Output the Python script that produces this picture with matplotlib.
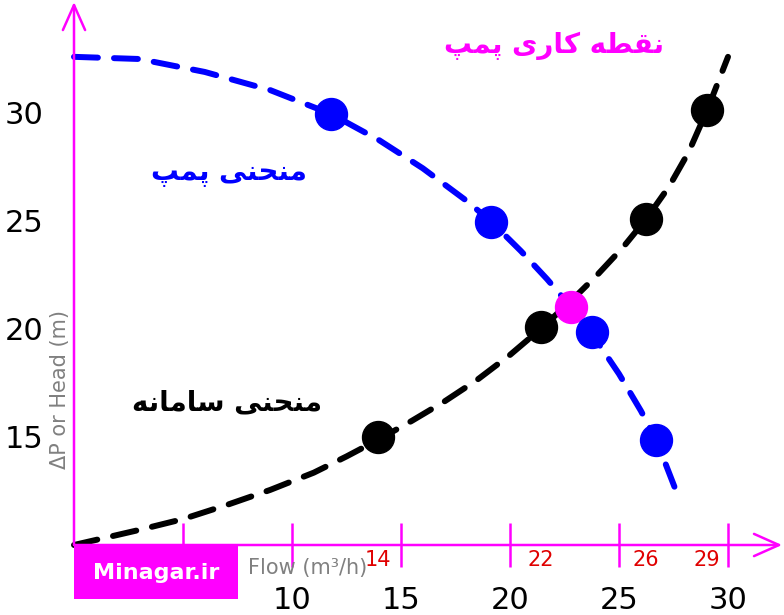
import matplotlib
matplotlib.use("Agg")
import matplotlib.pyplot as plt
from matplotlib.patches import Rectangle

# pump curve (dashed blue)
pump_curve_q = [0, 3, 6, 9, 11.8, 14, 16, 18, 19.15, 20.5, 21.7, 22.8, 23.75, 25, 26, 26.7, 27.65]
pump_curve_h = [32.6, 32.5, 31.9, 31.06, 29.95, 28.74, 27.44, 25.94, 24.96, 23.61, 22.31, 21.02, 19.79, 17.92, 16.22, 14.89, 12.42]
pump_pts_q = [11.8, 19.15, 23.75, 26.7]
pump_pts_h = [29.95, 24.95, 19.85, 14.85]

# system curve (dashed black)
system_curve_q = [0, 3, 5, 7, 9, 11, 12.5, 14, 15.5, 17, 18.5, 20, 21.4, 22.8, 24, 25.2, 26.25, 27.3, 28.2, 29.05, 30]
system_curve_h = [10, 10.7, 11.2, 11.85, 12.55, 13.35, 14.1, 14.9, 15.75, 16.65, 17.65, 18.8, 20.0, 21.3, 22.5, 23.8, 25.1, 26.6, 28.2, 30.15, 32.6]
system_pts_q = [13.95, 21.4, 26.25, 29.05]
system_pts_h = [15.0, 20.1, 25.1, 30.15]
system_pts_labels = ['14', '22', '26', '29']

operating_q = 22.8
operating_h = 21.0

x_ticks = [5, 10, 15, 20, 25, 30]
x_ticklabels = ['', '10', '15', '20', '25', '30']
y_ticks = [15, 20, 25, 30]

MAGENTA = '#ff00ff'
BLUE = '#0000ff'
RED = '#e00000'
GRAY = '#808080'

# minimal persian shaping (matplotlib draws glyphs one by one, left to right)
ARABIC_FORMS = {
    # letter: (isolated, final, initial, medial)
    'ا': ('\ufe8d', '\ufe8e', None, None),
    'ر': ('\ufead', '\ufeae', None, None),
    'ح': ('\ufea1', '\ufea2', '\ufea3', '\ufea4'),
    'س': ('\ufeb1', '\ufeb2', '\ufeb3', '\ufeb4'),
    'ط': ('\ufec1', '\ufec2', '\ufec3', '\ufec4'),
    'ق': ('\ufed5', '\ufed6', '\ufed7', '\ufed8'),
    'م': ('\ufee1', '\ufee2', '\ufee3', '\ufee4'),
    'ن': ('\ufee5', '\ufee6', '\ufee7', '\ufee8'),
    'ه': ('\ufee9', '\ufeea', '\ufeeb', '\ufeec'),
    'پ': ('\ufb56', '\ufb57', '\ufb58', '\ufb59'),
    'ک': ('\ufb8e', '\ufb8f', '\ufb90', '\ufb91'),
    'ی': ('\ufbfc', '\ufbfd', '\ufbfe', '\ufbff'),
}


def shape_fa(text):
    out = []
    for i, ch in enumerate(text):
        forms = ARABIC_FORMS.get(ch)
        if forms is None:
            out.append(ch)
            continue
        prev = text[i - 1] if i > 0 else ''
        nxt = text[i + 1] if i + 1 < len(text) else ''
        join_prev = prev in ARABIC_FORMS and ARABIC_FORMS[prev][2] is not None
        join_next = forms[2] is not None and nxt in ARABIC_FORMS
        if join_prev and join_next:
            out.append(forms[3])
        elif join_prev:
            out.append(forms[1])
        elif join_next:
            out.append(forms[2])
        else:
            out.append(forms[0])
    return ''.join(reversed(out))


plt.rcParams['font.family'] = ['DejaVu Sans']

fig = plt.figure(figsize=(7.84, 6.15), dpi=100)
ax = fig.add_axes([74 / 784, 70 / 615, 710 / 784, 545 / 615])
ax.set_xlim(0, 710 / 21.8)
ax.set_ylim(10, 10 + 545 / 21.6)
for s in ax.spines.values():
    s.set_visible(False)

ax.set_xticks(x_ticks, x_ticklabels)
ax.set_yticks(y_ticks)
ax.tick_params(axis='x', direction='inout', length=31.7, width=1.8, color=MAGENTA,
               labelsize=22, pad=14)
ax.tick_params(axis='y', length=0, labelsize=22, pad=22)

# axes with arrow heads
arrow = dict(arrowstyle='->,head_length=0.9,head_width=0.4', color=MAGENTA, lw=1.8,
             mutation_scale=20, shrinkA=0, shrinkB=0)
ax.annotate('', xy=(32.48, 10), xytext=(0, 10), arrowprops=arrow, annotation_clip=False)
ax.annotate('', xy=(0, 35.14), xytext=(0, 10), arrowprops=arrow, annotation_clip=False)

dash = dict(lw=4.3, dashes=(4, 2.7), dash_capstyle='round', clip_on=False)
ax.plot(system_curve_q, system_curve_h, color='black', zorder=2, **dash)
ax.plot(pump_curve_q, pump_curve_h, color=BLUE, zorder=2, **dash)

ax.plot(system_pts_q, system_pts_h, 'o', color='black', ms=23, zorder=4)
ax.plot([operating_q], [operating_h], 'o', color=MAGENTA, ms=23, zorder=4)
ax.plot(pump_pts_q, pump_pts_h, 'o', color=BLUE, ms=23, zorder=5)

for q, lab in zip(system_pts_q, system_pts_labels):
    ax.text(q, 9.3, lab, color=RED, fontsize=15, ha='center', va='center', clip_on=False)

ax.set_xlabel('Flow (m³/h)', color=GRAY, fontsize=15, va='center')
ax.xaxis.set_label_coords(0.329, -0.042)
ax.set_ylabel('ΔP or Head (m)', color=GRAY, fontsize=15, va='center')
ax.yaxis.set_label_coords(-14 / 710, 0.286)

ax.text(22.0, 33.1, shape_fa('نقطه کاری پمپ'), color=MAGENTA, fontsize=20,
        fontweight='bold', ha='center', va='center')
ax.text(7.1, 27.2, shape_fa('منحنی پمپ'), color=BLUE, fontsize=20,
        fontweight='bold', ha='center', va='center')
ax.text(7.0, 16.6, shape_fa('منحنی سامانه'), color='black', fontsize=20,
        fontweight='bold', ha='center', va='center')

# watermark box
fig.add_artist(Rectangle((74 / 784, 16 / 615), 164 / 784, 54 / 615,
                         transform=fig.transFigure, facecolor=MAGENTA, edgecolor='none', zorder=5))
fig.text(156 / 784, 1 - 573 / 615, 'Minagar.ir', color='white', fontsize=16,
         fontweight='bold', ha='center', va='center', zorder=6)

fig.savefig('out.png', dpi=100)
